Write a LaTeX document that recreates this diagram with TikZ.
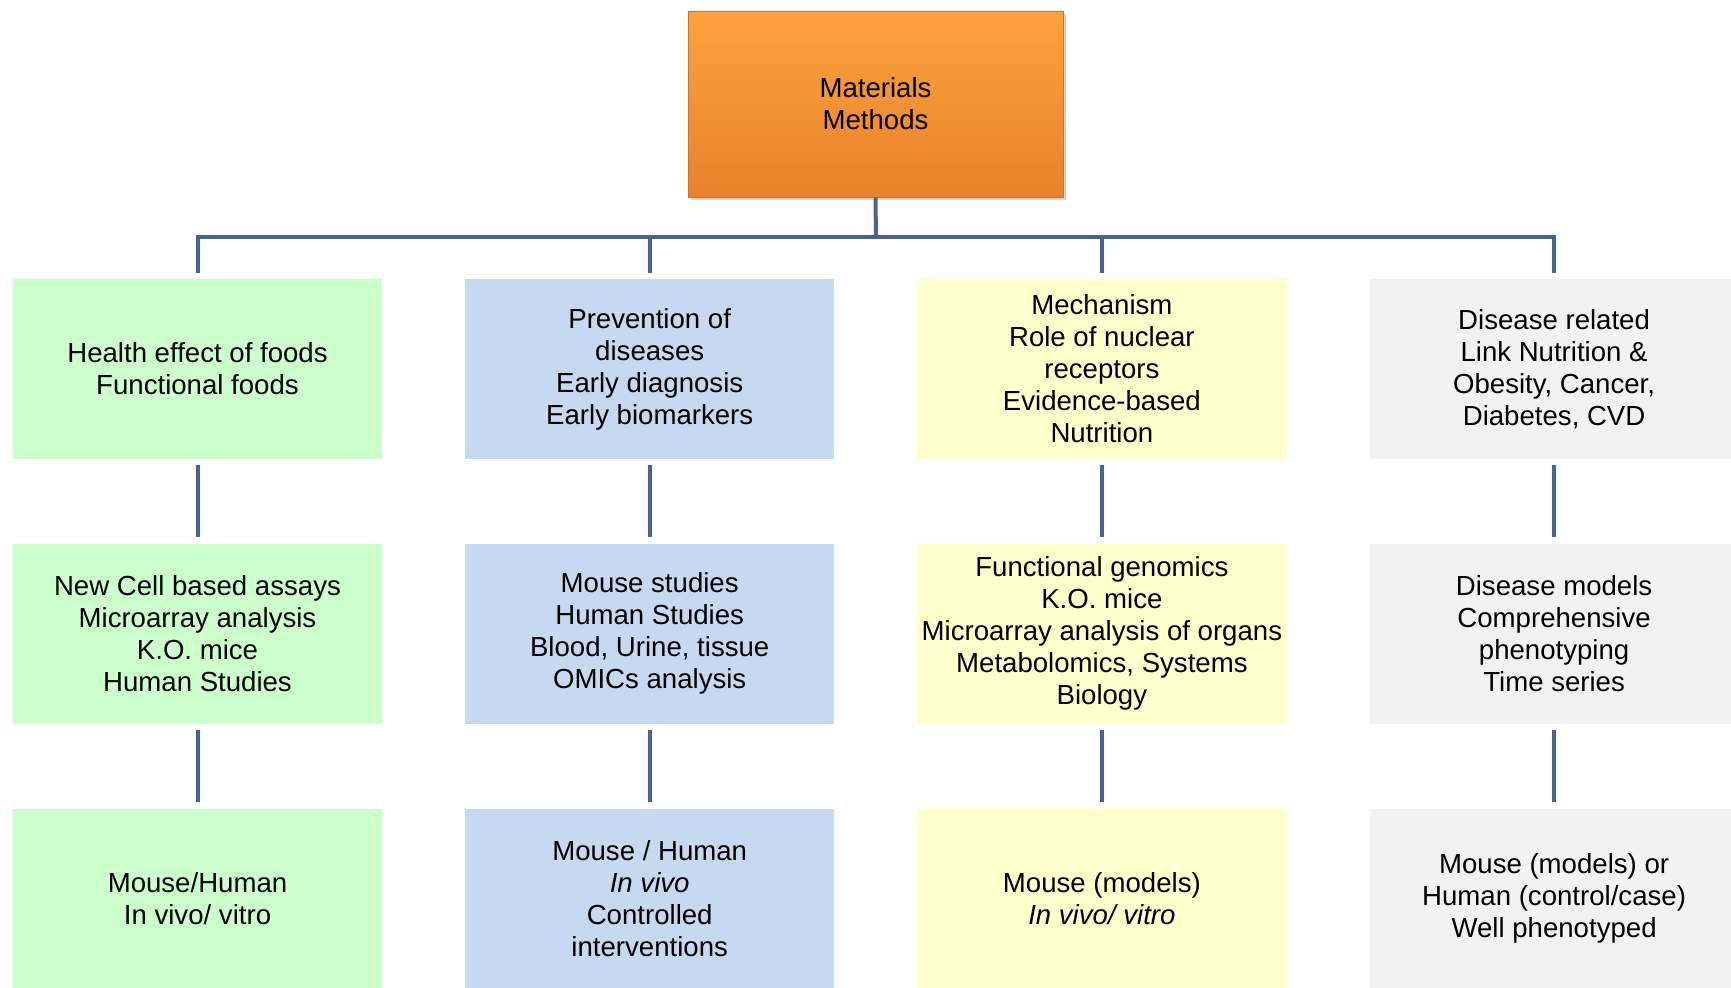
\documentclass[tikz,border=0pt]{standalone}
\usepackage{fontspec}
\setmainfont{Liberation Sans}
\usepackage{tikz}
\usetikzlibrary{positioning}
\usetikzlibrary{shadows}
\definecolor{linkblue}{RGB}{70,100,145}
\definecolor{foodgreen}{RGB}{204,255,204}
\definecolor{prevblue}{RGB}{198,217,240}
\definecolor{mechyellow}{RGB}{255,255,204}
\definecolor{disgrey}{RGB}{242,242,242}

\begin{document}
\begin{tikzpicture}[x=0.5pt,y=-0.5pt,font=\fontsize{13.8}{16}\selectfont,
        link/.style={draw=linkblue,line width=2pt},
        cell/.style={minimum width=184.5pt,minimum height=90pt,inner sep=0pt,align=center},
        foodbox/.style={cell,fill=foodgreen},
        prevbox/.style={cell,fill=prevblue},
        mechbox/.style={cell,fill=mechyellow},
        disbox/.style={cell,fill=disgrey},
        topbox/.style={draw={rgb,255:red,205;green,115;blue,40},line width=0.5pt,
                top color={rgb,255:red,251;green,163;blue,62},bottom color={rgb,255:red,233;green,129;blue,42},
                drop shadow={opacity=0.35,shadow xshift=1.5pt,shadow yshift=-1.5pt},
                minimum width=187.5pt,minimum height=93pt,align=center,inner sep=0pt}]
        \useasboundingbox (0,0) rectangle (1731,987);
        \node[topbox] (mm) at (875.5,104) {Materials\\Methods};

        \node[foodbox] (food1) at (197.5,369) {Health effect of foods\\Functional foods};
        \node[foodbox,below=42pt of food1] (food2) {New Cell based assays\\Microarray analysis\\K.O. mice\\Human Studies};
        \node[foodbox,below=42pt of food2] (food3) {Mouse/Human\\In vivo/ vitro};

        \node[prevbox,right=41.2pt of food1] (prev1) {Prevention of\\diseases\\Early diagnosis\\Early biomarkers};
        \node[prevbox,below=42pt of prev1] (prev2) {Mouse studies\\Human Studies\\Blood, Urine, tissue\\OMICs analysis};
        \node[prevbox,below=42pt of prev2] (prev3) {Mouse / Human\\\textit{In vivo}\\Controlled\\interventions};

        \node[mechbox,right=41.2pt of prev1] (mech1) {Mechanism\\Role of nuclear\\receptors\\Evidence-based\\Nutrition};
        \node[mechbox,below=42pt of mech1] (mech2) {Functional genomics\\K.O. mice\\Microarray analysis of organs\\Metabolomics, Systems\\Biology};
        \node[mechbox,below=42pt of mech2] (mech3) {Mouse (models)\\\textit{In vivo/ vitro}};

        \node[disbox,right=41.2pt of mech1] (dis1) {Disease related\\Link Nutrition \&\\Obesity, Cancer,\\Diabetes, CVD};
        \node[disbox,below=42pt of dis1] (dis2) {Disease models\\Comprehensive\\phenotyping\\Time series};
        \node[disbox,below=42pt of dis2] (dis3) {Mouse (models) or\\Human (control/case)\\Well phenotyped};

        \coordinate (bar) at (876,237);
        \draw[link] (mm.south) -- (bar);
        \draw[link,line cap=rect] (food1.north |- bar) -- (dis1.north |- bar);
        \foreach \col in {food,prev,mech,dis} {
                \draw[link,shorten >=3pt] (\col1.north |- bar) -- (\col1.north);
                \draw[link,shorten <=3pt,shorten >=3pt] (\col1) -- (\col2);
                \draw[link,shorten <=3pt,shorten >=3pt] (\col2) -- (\col3);
        }
\end{tikzpicture}
\end{document}
